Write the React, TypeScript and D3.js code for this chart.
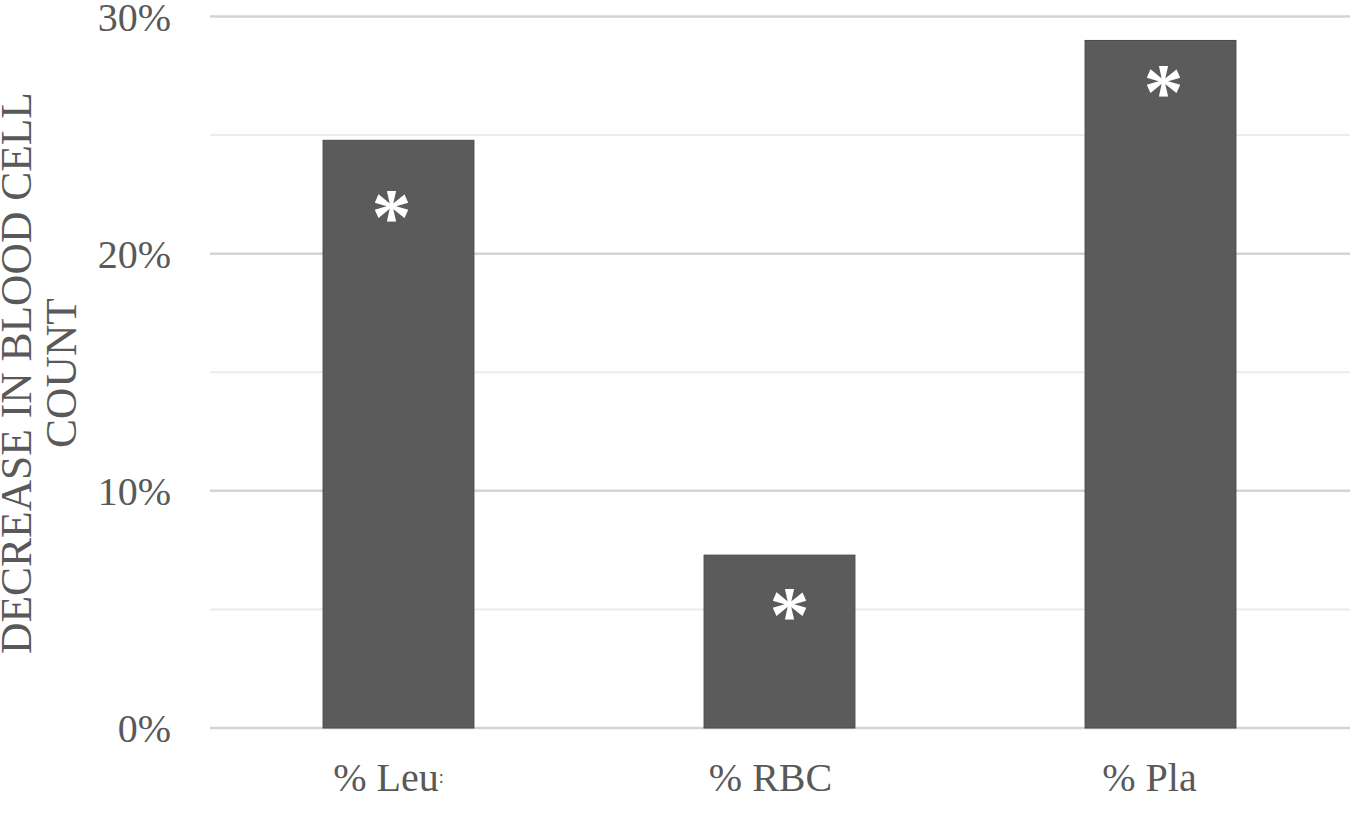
import React from "react";
import * as d3 from "d3";

const categories = ["% Leu", "% RBC", "% Pla"];
const values = [0.2478, 0.0729, 0.2899];
const yTicks = [0, 0.1, 0.2, 0.3];
const yMinorTicks = [0.05, 0.15, 0.25];
const starLabels = ["*", "*", "*"];
const yTitleLines = ["DECREASE IN BLOOD CELL", "COUNT"];

const W = 1350;
const H = 831;
const FONT = "'Liberation Serif', 'Times New Roman', serif";

export default function App() {
  const x = d3
    .scaleBand<string>()
    .domain(categories)
    .range([208, 1351])
    .paddingInner(0.604)
    .paddingOuter(0.302);
  const y = d3.scaleLinear().domain([0, 0.3]).range([728, 16.5]);
  const fmt = d3.format(".0%");
  const starOffsets = [104, 87, 79];
  const starDx = [-7, 10, 3];
  const labelDx = [-10, -9, -11];

  return (
    <svg
      width={W}
      height={H}
      style={{ position: "fixed", left: 0, top: 0, background: "#fff" }}
      fontFamily={FONT}
    >
      {yMinorTicks.map((t) => (
        <line key={"m" + t} x1={210} x2={W} y1={y(t)} y2={y(t)} stroke="#ececec" strokeWidth={2} />
      ))}
      {yTicks.map((t) => (
        <line key={"g" + t} x1={210} x2={W} y1={y(t)} y2={y(t)} stroke="#d4d4d4" strokeWidth={2.5} />
      ))}
      {yTicks.map((t) => (
        <text
          key={"t" + t}
          x={171}
          y={y(t)}
          dy="0.35em"
          textAnchor="end"
          fontSize={40}
          fill="#595959"
        >
          {fmt(t)}
        </text>
      ))}
      {categories.map((c, i) => (
        <g key={c}>
          <rect
            x={x(c)}
            y={y(values[i])}
            width={x.bandwidth()}
            height={y(0) - y(values[i])}
            fill="#5b5b5b"
            stroke="#4a4a4a"
            strokeWidth={1}
          />
          <text
            x={(x(c) as number) + x.bandwidth() / 2 + starDx[i]}
            y={y(values[i]) + starOffsets[i]}
            textAnchor="middle"
            fontSize={80}
            fontWeight="bold"
            fill="#ffffff"
          >
            {starLabels[i]}
          </text>
          <text
            x={(x(c) as number) + x.bandwidth() / 2 + labelDx[i]}
            y={791}
            textAnchor="middle"
            fontSize={40}
            fill="#595959"
          >
            {c}
            {i === 0 ? <tspan fontSize={18} dy={-8}>:</tspan> : null}
          </text>
        </g>
      ))}
      {yTitleLines.map((line, i) => (
        <text
          key={line}
          transform={`translate(${31 + i * 45}, 373) rotate(-90)`}
          textAnchor="middle"
          fontSize={43.5}
          fill="#595959"
        >
          {line}
        </text>
      ))}
    </svg>
  );
}
